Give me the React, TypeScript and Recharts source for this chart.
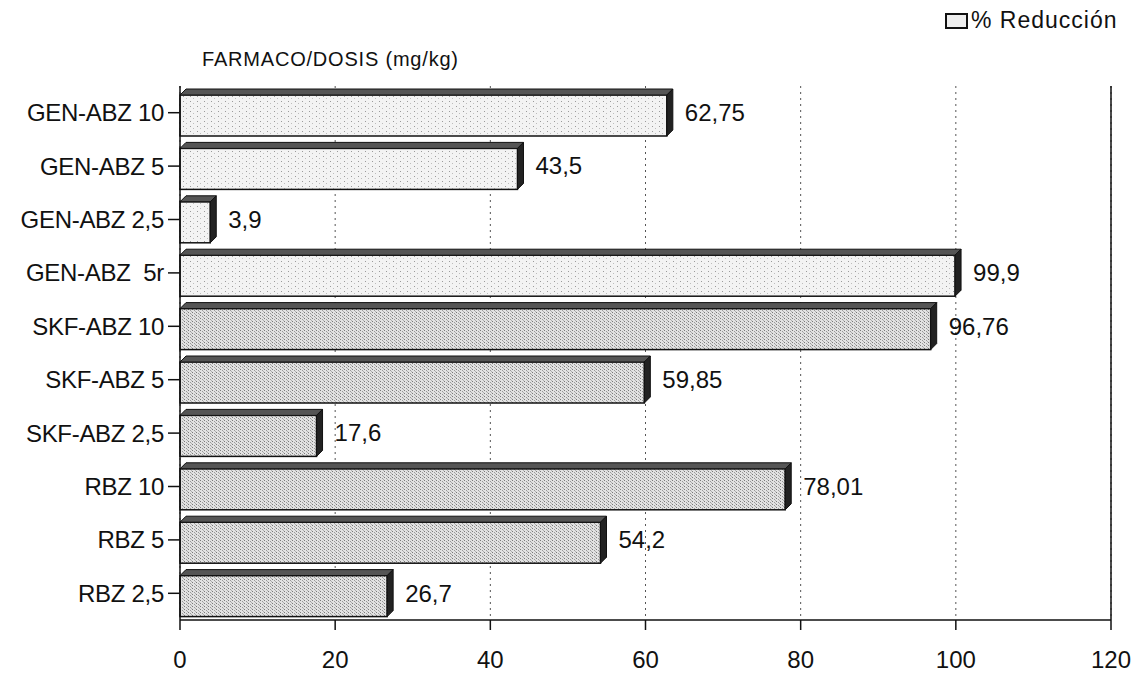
import { Bar, BarChart, CartesianGrid, Cell, LabelList, ReferenceLine, XAxis, YAxis } from "recharts";

const categories = [
  "GEN-ABZ 10",
  "GEN-ABZ 5",
  "GEN-ABZ 2,5",
  "GEN-ABZ\u00a0 5r",
  "SKF-ABZ 10",
  "SKF-ABZ 5",
  "SKF-ABZ 2,5",
  "RBZ 10",
  "RBZ 5",
  "RBZ 2,5",
];
const reduccion = [62.75, 43.5, 3.9, 99.9, 96.76, 59.85, 17.6, 78.01, 54.2, 26.7];
const valueLabels = ["62,75", "43,5", "3,9", "99,9", "96,76", "59,85", "17,6", "78,01", "54,2", "26,7"];
const xTicks = [0, 20, 40, 60, 80, 100, 120];

const data = categories.map((name, i) => ({ name, value: reduccion[i], label: valueLabels[i] }));

// scanned look: GEN bars lighter, SKF/RBZ bars denser dots
const patternFor = (i: number) => (i < 4 ? "url(#dotsLight)" : "url(#dotsDark)");

const FONT = "'Liberation Sans', Arial, sans-serif";
const DEPTH = 6;

function Bar3D(props: any) {
  const { x, y, width, height, fill } = props;
  const d = DEPTH;
  const top = `${x},${y + d} ${x + d},${y} ${x + width + d},${y} ${x + width},${y + d}`;
  const side = `${x + width},${y + d} ${x + width + d},${y} ${x + width + d},${y + height - d} ${x + width},${y + height}`;
  return (
    <g>
      <rect x={x} y={y + d} width={width} height={height - d} fill={fill} stroke="#111" strokeWidth={1.5} />
      <polygon points={top} fill="#555" stroke="#111" strokeWidth={1} />
      <polygon points={side} fill="#222" stroke="#111" strokeWidth={1} />
    </g>
  );
}

export default function App() {
  return (
    <div style={{ position: "absolute", left: 0, top: 0, width: 1135, height: 682, background: "#fff", fontFamily: FONT }}>
      <div
        style={{
          position: "absolute",
          left: 945,
          top: 7,
          display: "flex",
          alignItems: "center",
          fontSize: 23,
          letterSpacing: 1,
          color: "#111",
        }}
      >
        <span
          style={{
            display: "inline-block",
            width: 19,
            height: 12,
            border: "2px solid #111",
            background: "#eee",
            marginRight: 3,
          }}
        />
        % Reducción
      </div>
      <div
        style={{
          position: "absolute",
          left: 202,
          top: 48,
          fontSize: 20,
          letterSpacing: 0.8,
          color: "#111",
        }}
      >
        FARMACO/DOSIS (mg/kg)
      </div>
      <BarChart
        width={1135}
        height={682}
        data={data}
        layout="vertical"
        margin={{ top: 86, right: 24, left: 0, bottom: 0 }}
        barCategoryGap={3}
      >
        <defs>
          <pattern id="dotsLight" width="7" height="5" patternUnits="userSpaceOnUse">
            <rect width="7" height="5" fill="#f3f3f3" />
            <rect x="1" y="1" width="1" height="1" fill="#9a9a9a" />
            <rect x="4" y="3" width="1" height="1" fill="#bdbdbd" />
          </pattern>
          <pattern id="dotsDark" width="4" height="3" patternUnits="userSpaceOnUse">
            <rect width="4" height="3" fill="#e2e2e2" />
            <rect x="0" y="0" width="1" height="1" fill="#7a7a7a" />
            <rect x="2" y="1" width="1" height="1" fill="#9a9a9a" />
            <rect x="3" y="2" width="1" height="1" fill="#b0b0b0" />
          </pattern>
        </defs>
        <CartesianGrid horizontal={false} strokeDasharray="2 4" stroke="#555" />
        <ReferenceLine x={120} stroke="#111" strokeWidth={1.5} />
        <XAxis
          type="number"
          domain={[0, 120]}
          ticks={xTicks}
          interval={0}
          height={62}
          tickSize={10}
          tickMargin={21}
          stroke="#111"
          strokeWidth={1.5}
          tick={{ fill: "#111", fontSize: 24, fontFamily: FONT }}
        />
        <YAxis
          type="category"
          dataKey="name"
          width={180}
          tickSize={12}
          tickMargin={4}
          stroke="#111"
          strokeWidth={1.5}
          tick={{ fill: "#111", fontSize: 24, fontFamily: FONT, letterSpacing: -0.3 }}
        />
        <Bar dataKey="value" name="% Reducción" shape={<Bar3D />} isAnimationActive={false}>
          {data.map((_, i) => (
            <Cell key={i} fill={patternFor(i)} />
          ))}
          <LabelList
            dataKey="label"
            position="right"
            offset={18}
            fill="#111"
            fontSize={24}
            fontFamily={FONT}
          />
        </Bar>
      </BarChart>
    </div>
  );
}
